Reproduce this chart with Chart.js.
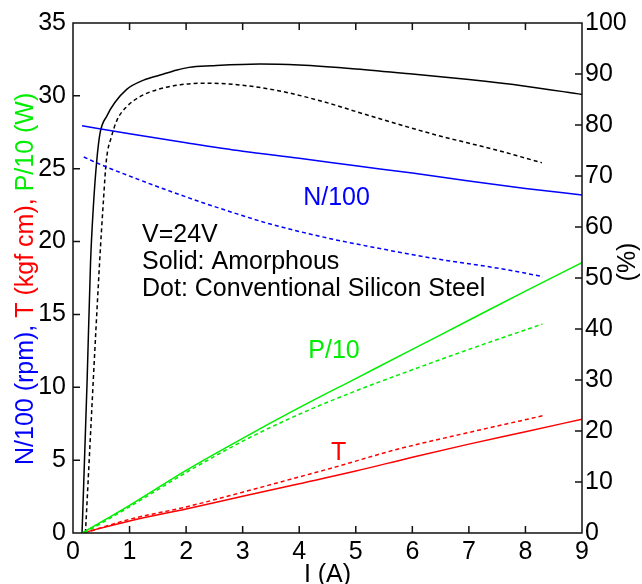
<!DOCTYPE html>
<html>
<head>
<meta charset="utf-8">
<script src="https://cdn.jsdelivr.net/npm/chart.js@4.4.1/dist/chart.umd.min.js"></script>
<style>
  body { margin: 0; background: #fff; }
  #wrap { width: 642px; height: 584px; }
</style>
</head>
<body>
<div id="wrap"><canvas id="motorChart" width="642" height="584"></canvas></div>
<script>
// efficiency (%), right axis
const effAmorI = [0.16, 0.25, 0.31, 0.36, 0.42, 0.48, 0.6, 0.74, 0.95, 1.25, 1.54, 1.84, 2.05, 2.45, 3.3, 4, 5, 6, 7, 8, 9];
const effAmor = [0, 30, 53, 64, 73, 78.5, 81.8, 84.4, 87.0, 88.8, 89.8, 90.8, 91.3, 91.6, 91.95, 91.75, 91.0, 90.0, 88.9, 87.6, 86.0];
const effConvI = [0.22, 0.47, 0.54, 0.59, 0.68, 0.78, 0.95, 1.19, 1.48, 1.9, 2.31, 2.9, 3.6, 4.42, 5.19, 6.37, 7.55, 8.29];
const effConv = [0, 53, 65.5, 73.1, 77.7, 81, 83.6, 85.6, 86.9, 87.9, 88.2, 87.9, 86.8, 84.6, 82.0, 78.2, 74.9, 72.6];

// speed N/100 (rpm), left axis
const speedAmorI = [0.16, 1, 2, 3, 4, 5, 6, 7, 8, 9];
const speedAmor = [27.95, 27.4, 26.78, 26.2, 25.72, 25.2, 24.7, 24.15, 23.65, 23.2];
const speedConvI = [0.19, 0.54, 1.13, 1.72, 2.31, 2.9, 3.49, 4.55, 5.19, 6.37, 7.55, 8.31];
const speedConv = [25.8, 25.2, 24.3, 23.45, 22.65, 21.9, 21.2, 20.2, 19.7, 18.85, 18.15, 17.6];

// output power P/10 (W), left axis
const powerAmorI = [0.16, 1, 2, 3, 4, 5, 6, 7, 8, 9];
const powerAmor = [0, 1.9, 4.3, 6.5, 8.6, 10.6, 12.6, 14.6, 16.6, 18.56];
const powerConvI = [0.2, 1, 2, 3, 4, 5, 6, 7, 8.3];
const powerConv = [0, 1.8, 4.15, 6.3, 8.15, 9.75, 11.2, 12.6, 14.34];

// torque T (kgf cm), left axis
const torqueAmorI = [0.16, 1, 2, 3, 4, 5, 6, 7, 8, 9];
const torqueAmor = [0, 0.83, 1.65, 2.52, 3.38, 4.25, 5.2, 6.1, 6.95, 7.81];
const torqueConvI = [0.2, 1, 2, 3, 4, 4.55, 5.72, 7, 8.3];
const torqueConv = [0, 0.94, 1.79, 2.8, 3.85, 4.43, 5.73, 6.9, 8.04];

const FONT = "'Liberation Sans', Arial, sans-serif";
const BLUE = "#0000ff";
const RED = "#ff0000";
const GREEN = "#00ee00";

function pts(xs, ys) {
  return xs.map((x, i) => ({ x: x, y: ys[i] }));
}

function series(xs, ys, color, dashed, axis) {
  return {
    data: pts(xs, ys),
    borderColor: color,
    borderWidth: 1.5,
    borderDash: dashed ? [4, 3] : [],
    pointRadius: 0,
    cubicInterpolationMode: "monotone",
    yAxisID: axis,
  };
}

// frame, inward ticks, coloured titles and labels
const decorations = {
  id: "decorations",
  afterDatasetsDraw(chart) {
    const ctx = chart.ctx;
    const a = chart.chartArea;
    const sx = chart.scales.x;
    const sy = chart.scales.y;
    const sy1 = chart.scales.y1;
    const tick = 7;

    ctx.save();
    ctx.strokeStyle = "#111";
    ctx.lineWidth = 1.5;
    ctx.setLineDash([]);
    ctx.strokeRect(a.left, a.top, a.right - a.left, a.bottom - a.top);

    ctx.beginPath();
    for (let v = 1; v < 9; v++) {
      const px = sx.getPixelForValue(v);
      ctx.moveTo(px, a.bottom);
      ctx.lineTo(px, a.bottom - tick);
      ctx.moveTo(px, a.top);
      ctx.lineTo(px, a.top + tick);
    }
    for (let v = 5; v < 35; v += 5) {
      const py = sy.getPixelForValue(v);
      ctx.moveTo(a.left, py);
      ctx.lineTo(a.left + tick, py);
    }
    for (let v = 10; v < 100; v += 10) {
      const py = sy1.getPixelForValue(v);
      ctx.moveTo(a.right, py);
      ctx.lineTo(a.right - tick, py);
    }
    ctx.stroke();

    ctx.font = "25px " + FONT;
    ctx.textBaseline = "alphabetic";

    // text inside the plot
    ctx.fillStyle = "#000";
    ctx.textAlign = "left";
    const tx = sx.getPixelForValue(1.22);
    const ty = sy.getPixelForValue(20);
    ctx.fillText("V=24V", tx, ty);
    ctx.fillText("Solid: Amorphous", tx, ty + 27);
    ctx.fillText("Dot: Conventional Silicon Steel", tx, ty + 54);

    ctx.fillStyle = BLUE;
    ctx.fillText("N/100", sx.getPixelForValue(4.07), sy.getPixelForValue(22.5));
    ctx.fillStyle = GREEN;
    ctx.fillText("P/10", sx.getPixelForValue(4.16), sy.getPixelForValue(12));
    ctx.fillStyle = RED;
    ctx.fillText("T", sx.getPixelForValue(4.56), sy.getPixelForValue(5));

    // x title
    ctx.fillStyle = "#000";
    ctx.textAlign = "center";
    ctx.fillText("I (A)", sx.getPixelForValue(4.5), 582);

    // right title
    ctx.save();
    ctx.translate(635, 262);
    ctx.rotate(-Math.PI / 2);
    ctx.fillText("(%)", 0, 0);
    ctx.restore();

    // left title in three colours
    const parts = [
      ["N/100 (rpm), ", BLUE],
      ["T (kgf cm), ", RED],
      ["P/10 (W)", GREEN],
    ];
    ctx.save();
    ctx.translate(33, 465);
    ctx.rotate(-Math.PI / 2);
    ctx.textAlign = "left";
    let off = 0;
    parts.forEach(([txt, col]) => {
      ctx.fillStyle = col;
      ctx.fillText(txt, off, 0);
      off += ctx.measureText(txt).width;
    });
    ctx.restore();

    ctx.restore();
  },
};

new Chart(document.getElementById("motorChart").getContext("2d"), {
  type: "line",
  data: {
    datasets: [
      series(speedAmorI, speedAmor, BLUE, false, "y"),
      series(speedConvI, speedConv, BLUE, true, "y"),
      series(powerAmorI, powerAmor, GREEN, false, "y"),
      series(powerConvI, powerConv, GREEN, true, "y"),
      series(torqueAmorI, torqueAmor, RED, false, "y"),
      series(torqueConvI, torqueConv, RED, true, "y"),
      series(effAmorI, effAmor, "#000", false, "y1"),
      series(effConvI, effConv, "#000", true, "y1"),
    ],
  },
  options: {
    responsive: false,
    animation: false,
    layout: { padding: { top: 23, left: 0, right: 0, bottom: 0 } },
    plugins: {
      legend: { display: false },
      tooltip: { enabled: false },
    },
    scales: {
      x: {
        type: "linear",
        min: 0,
        max: 9,
        grid: { display: false, drawTicks: false },
        border: { display: false },
        ticks: { stepSize: 1, color: "#000", font: { family: FONT, size: 25 }, padding: 4, maxRotation: 0 },
        afterFit: (scale) => { scale.height = 51; },
      },
      y: {
        position: "left",
        min: 0,
        max: 35,
        grid: { display: false, drawTicks: false },
        border: { display: false },
        ticks: { stepSize: 5, color: "#000", font: { family: FONT, size: 25 }, padding: 7 },
        afterFit: (scale) => { scale.width = 73; },
      },
      y1: {
        position: "right",
        min: 0,
        max: 100,
        grid: { display: false, drawTicks: false },
        border: { display: false },
        ticks: { stepSize: 10, color: "#000", font: { family: FONT, size: 25 }, padding: 3 },
        afterFit: (scale) => { scale.width = 60; },
      },
    },
  },
  plugins: [decorations],
});
</script>
</body>
</html>
